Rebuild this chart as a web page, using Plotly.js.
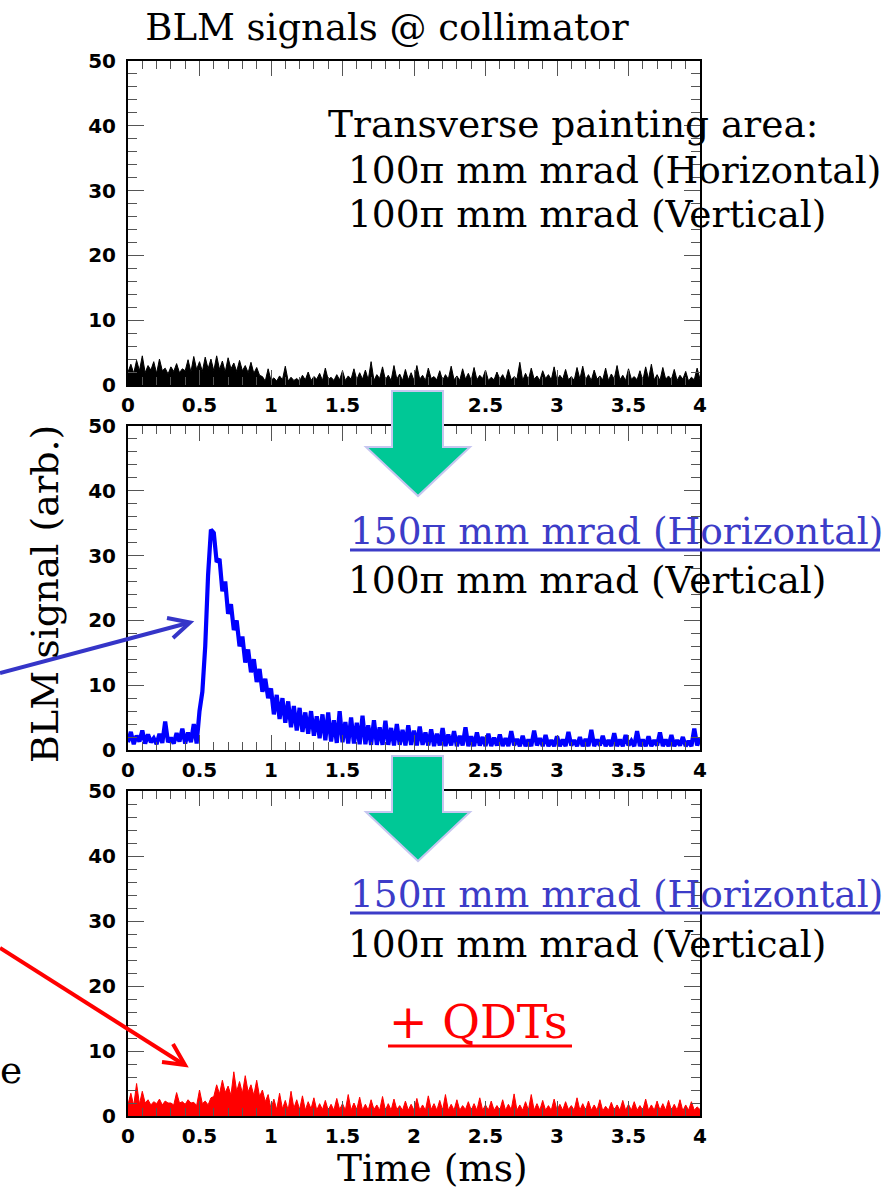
<!DOCTYPE html>
<html>
<head>
<meta charset="utf-8">
<script src="https://cdn.plot.ly/plotly-3.0.1.min.js"></script>
<style>
html,body{margin:0;padding:0;background:#fff;}
#chart{width:889px;height:1192px;}
</style>
</head>
<body>
<div id="chart"></div>
<script>
// ---------------- DATA ----------------
// Sampling grid of the BLM traces (ms)
const SAMPLE_START = 0;
const SAMPLE_STEP = 0.02;

// Panel 1: 100pi (H) x 100pi (V) painting -- black trace
const blm_100H_100V = [
  2.0, 3.2, 1.8, 3.8, 2.2, 4.5, 1.9, 3.0, 2.3, 3.6,
  1.8, 4.0, 2.2, 2.6, 1.7, 2.8, 2.1, 3.3, 1.9, 2.5,
  2.2, 3.9, 2.0, 4.4, 2.4, 3.6, 2.1, 4.3, 2.5, 4.0,
  2.2, 4.5, 2.4, 3.7, 2.0, 4.2, 2.5, 3.4, 2.1, 3.8,
  2.2, 3.0, 1.9, 3.5, 1.8, 2.7, 1.5, 1.3, 0.6, 2.5,
  0.7, 1.1, 0.6, 1.4, 0.8, 2.9, 0.6, 1.2, 0.7, 1.0,
  0.6, 1.5, 0.8, 2.0, 0.7, 1.3, 0.9, 1.8, 0.7, 2.6,
  0.8, 1.2, 0.7, 1.6, 0.8, 2.2, 0.7, 1.4, 0.9, 2.5,
  0.8, 1.9, 0.9, 2.3, 0.8, 3.6, 0.7, 1.6, 1.0, 2.8,
  0.8, 1.5, 0.7, 3.0, 0.9, 1.7, 0.7, 2.4, 0.8, 1.9,
  0.7, 3.0, 0.9, 1.5, 0.7, 2.6, 1.0, 1.3, 0.8, 2.2,
  0.7, 1.6, 0.9, 2.9, 0.8, 1.4, 0.7, 2.5, 0.9, 1.8,
  0.7, 2.7, 0.8, 1.5, 1.0, 2.3, 0.7, 1.2, 0.8, 2.0,
  0.9, 1.6, 0.7, 2.4, 0.8, 1.3, 0.9, 3.5, 0.7, 1.8,
  0.8, 2.6, 0.9, 1.4, 0.7, 2.2, 1.0, 1.6, 0.8, 2.8,
  0.7, 1.5, 0.9, 2.4, 0.8, 1.3, 0.7, 2.7, 0.9, 2.9,
  0.8, 1.6, 0.7, 2.3, 0.9, 1.4, 0.8, 2.6, 0.7, 1.7,
  0.9, 3.0, 0.8, 1.5, 0.7, 2.5, 0.9, 1.3, 0.8, 2.2,
  0.7, 2.8, 0.9, 3.2, 0.8, 1.6, 0.7, 2.7, 0.9, 1.4,
  0.8, 2.4, 0.7, 1.5, 0.9, 2.1, 0.6, 1.2, 0.8, 2.6,
  0.9
];

// Panel 2: 150pi (H) x 100pi (V) painting -- blue trace
const blm_150H_100V = [
  1.2, 2.8, 0.9, 2.2, 1.3, 3.0, 1.0, 2.4, 1.2, 1.8,
  0.9, 2.5, 1.1, 4.4, 1.2, 1.9, 1.0, 2.6, 1.3, 3.3,
  1.0, 2.7, 1.2, 4.0, 1.0, 6.0, 9.0, 16.0, 27.0, 34.0,
  33.5, 29.0, 29.5, 24.5, 26.0, 21.0, 22.5, 18.5, 20.0, 16.0,
  17.5, 13.5, 15.5, 12.0, 14.0, 10.5, 12.5, 9.0, 11.0, 8.0,
  9.5, 5.5, 8.5, 4.8, 8.0, 4.2, 7.5, 3.5, 6.8, 3.0,
  6.5, 2.8, 5.8, 2.5, 6.0, 2.2, 5.2, 1.8, 5.5, 1.5,
  5.8, 1.3, 4.6, 1.1, 6.0, 1.2, 4.3, 1.0, 5.0, 1.0,
  4.2, 0.9, 5.3, 0.9, 3.8, 0.8, 4.6, 0.8, 3.5, 0.8,
  4.5, 0.8, 3.4, 0.7, 4.0, 0.8, 3.1, 0.7, 3.8, 0.8,
  3.0, 0.7, 3.6, 0.8, 2.7, 0.7, 3.2, 0.6, 2.5, 0.7,
  3.4, 0.6, 2.4, 0.7, 2.9, 0.6, 2.2, 0.7, 3.5, 0.6,
  2.1, 0.6, 2.7, 0.7, 2.0, 0.6, 2.5, 0.6, 1.9, 0.7,
  2.4, 0.6, 1.8, 0.6, 2.9, 0.7, 1.7, 0.6, 2.2, 0.6,
  1.6, 0.6, 3.0, 0.7, 1.8, 0.6, 2.3, 0.6, 1.5, 0.6,
  2.1, 0.6, 1.6, 0.6, 2.8, 0.7, 1.5, 0.6, 2.0, 0.6,
  1.7, 0.6, 3.1, 0.6, 1.6, 0.7, 2.2, 0.6, 1.5, 0.6,
  2.6, 0.6, 1.6, 0.6, 2.3, 0.7, 1.4, 0.6, 2.9, 0.6,
  1.6, 0.6, 2.1, 0.6, 1.5, 0.7, 2.7, 0.6, 1.6, 0.6,
  2.3, 0.6, 1.5, 0.7, 2.0, 0.6, 1.4, 0.6, 3.3, 0.7,
  1.8
];

// Panel 3: 150pi (H) x 100pi (V) painting + QDTs -- red trace
const blm_150H_100V_QDT = [
  1.8, 3.5, 1.6, 5.0, 1.8, 3.8, 2.0, 2.5, 1.7, 2.2,
  1.9, 2.6, 1.7, 2.3, 2.0, 2.0, 1.7, 3.6, 2.0, 2.2,
  1.8, 2.5, 2.0, 2.1, 1.6, 4.0, 1.9, 2.3, 1.7, 2.8,
  3.0, 4.8, 3.4, 5.5, 3.6, 4.6, 3.2, 6.8, 3.8, 5.3,
  3.5, 6.2, 3.7, 4.8, 3.2, 5.5, 3.0, 4.0, 2.2, 3.3,
  1.1, 2.6, 1.0, 3.5, 1.1, 2.4, 0.9, 3.8, 1.2, 2.5,
  1.0, 3.1, 0.9, 2.2, 1.1, 2.8, 0.9, 1.9, 1.0, 2.4,
  0.9, 1.8, 0.9, 2.7, 1.0, 1.9, 0.9, 3.3, 0.9, 2.0,
  1.0, 2.9, 0.9, 1.8, 0.9, 2.5, 1.0, 1.7, 0.9, 3.0,
  0.9, 1.9, 0.9, 2.6, 1.0, 1.6, 0.9, 2.3, 0.9, 1.8,
  0.9, 2.7, 0.9, 1.7, 0.9, 3.1, 1.0, 1.9, 0.9, 2.4,
  0.9, 3.3, 0.9, 1.8, 0.9, 2.5, 0.9, 1.6, 1.0, 2.2,
  0.9, 1.9, 0.9, 2.8, 0.9, 1.7, 0.9, 2.3, 0.9, 1.6,
  0.9, 2.5, 0.9, 1.8, 1.0, 3.4, 0.9, 1.7, 0.9, 2.2,
  0.9, 3.3, 0.9, 1.9, 0.9, 2.4, 0.9, 1.6, 0.9, 2.6,
  0.9, 1.8, 0.9, 2.2, 1.0, 1.6, 0.9, 2.8, 0.9, 1.9,
  0.9, 2.3, 0.9, 1.7, 0.9, 2.5, 0.8, 1.5, 0.9, 2.1,
  0.9, 1.7, 0.9, 2.4, 0.9, 1.8, 0.9, 2.2, 0.9, 1.6,
  0.9, 2.6, 0.9, 1.7, 0.9, 2.3, 0.9, 1.9, 0.9, 2.4,
  0.9, 1.8, 0.9, 2.5, 0.8, 1.7, 0.9, 2.2, 0.9, 1.4,
  1.0
];

// Axis ticks
const xTickVals = [0, 0.5, 1, 1.5, 2, 2.5, 3, 3.5, 4];
const xTickText = ["0", "0.5", "1", "1.5", "2", "2.5", "3", "3.5", "4"];
const yTickVals = [0, 10, 20, 30, 40, 50];
const yTickText = ["0", "10", "20", "30", "40", "50"];
const xRange = [0, 4];
const yRange = [0, 50];

// Texts
const titleText = "BLM signals @ collimator";
const yTitleText = "BLM signal (arb.)";
const xTitleText = "Time (ms)";
const panel1Lines = ["Transverse painting area:", "100π mm mrad (Horizontal)", "100π mm mrad (Vertical)"];
const panel2Lines = ["150π mm mrad (Horizontal)", "100π mm mrad (Vertical)"];
const panel3Lines = ["150π mm mrad (Horizontal)", "100π mm mrad (Vertical)", "+ QDTs"];
const cutWordText = "e";

// ---------------- LAYOUT HELPERS (pixel -> paper) ----------------
const W = 889, H = 1192;
const px = x => x / W;
const py = y => 1 - y / H;
const pathOf = (pts, close) =>
  pts.map((p, i) => (i ? 'L' : 'M') + px(p[0]).toFixed(5) + ',' + py(p[1]).toFixed(5)).join(' ') + (close ? ' Z' : '');

const SERIF = 'DejaVu Serif';
const TXT = 37.5;
const BLUE_TXT = '#3c3cc8';
const xDomain = [px(128), px(700)];
const yDomains = [
  [py(385), py(61)],
  [py(750), py(426)],
  [py(1116), py(791)]
];

const axisCommon = {
  showline: true, linecolor: '#000', linewidth: 2, mirror: 'allticks',
  ticks: 'inside', tickcolor: '#555', tickwidth: 1,
  showgrid: false, zeroline: false, fixedrange: true,
  tickfont: {family: 'DejaVu Sans', size: 20, color: '#000', weight: 'bold'}
};

function xAxis(anchor) {
  return Object.assign({}, axisCommon, {
    domain: xDomain, range: xRange, anchor: anchor,
    tickmode: 'array', tickvals: xTickVals, ticktext: xTickText, ticklen: 15,
    ticklabelstandoff: 1,
    minor: {dtick: 0.1, tick0: 0, ticklen: 8, ticks: 'inside', tickcolor: '#555', tickwidth: 1}
  });
}
function yAxis(anchor, domain) {
  return Object.assign({}, axisCommon, {
    domain: domain, range: yRange, anchor: anchor,
    tickmode: 'array', tickvals: yTickVals, ticktext: yTickText, ticklen: 16,
    ticklabelstandoff: 6,
    minor: {dtick: 2, tick0: 0, ticklen: 9, ticks: 'inside', tickcolor: '#555', tickwidth: 1}
  });
}

// ---------------- TRACES ----------------
const traces = [
  {
    type: 'scatter', mode: 'lines', x0: SAMPLE_START, dx: SAMPLE_STEP, y: blm_100H_100V,
    xaxis: 'x', yaxis: 'y', line: {color: '#000', width: 1}, fill: 'tozeroy', fillcolor: '#000',
    hoverinfo: 'skip', showlegend: false
  },
  {
    type: 'scatter', mode: 'lines', x0: SAMPLE_START, dx: SAMPLE_STEP, y: blm_150H_100V,
    xaxis: 'x2', yaxis: 'y2', line: {color: '#0000ff', width: 4.2},
    hoverinfo: 'skip', showlegend: false
  },
  {
    type: 'scatter', mode: 'lines', x0: SAMPLE_START, dx: SAMPLE_STEP, y: blm_150H_100V_QDT,
    xaxis: 'x3', yaxis: 'y3', line: {color: '#ff0000', width: 1}, fill: 'tozeroy', fillcolor: '#ff0000',
    hoverinfo: 'skip', showlegend: false
  }
];

// ---------------- ANNOTATIONS ----------------
function txt(text, x, y, opts) {
  return Object.assign({
    text: text, xref: 'paper', yref: 'paper', x: px(x), y: py(y),
    xanchor: 'left', yanchor: 'middle', showarrow: false,
    font: {family: SERIF, size: TXT, color: '#000'}
  }, opts || {});
}
const annotations = [
  txt(panel1Lines[0], 326, 124),
  txt(panel1Lines[1], 346, 170),
  txt(panel1Lines[2], 346, 214),
  txt(panel2Lines[0], 348, 531, {font: {family: SERIF, size: TXT, color: BLUE_TXT}}),
  txt(panel2Lines[1], 346, 580),
  txt(panel3Lines[0], 348, 894, {font: {family: SERIF, size: TXT, color: BLUE_TXT}}),
  txt(panel3Lines[1], 346, 944),
  txt(panel3Lines[2], 478, 1022, {xanchor: 'center', font: {family: SERIF, size: 46, color: '#ff0000'}}),
  txt(yTitleText, 45, 594, {xanchor: 'center', textangle: -90, font: {family: SERIF, size: 38, color: '#000'}}),
  txt(xTitleText, 432, 1168, {xanchor: 'center'}),
  txt(cutWordText, -2, 1070)
];

// ---------------- SHAPES (decorations) ----------------
const greenArrow = dy => ({
  type: 'path', xref: 'paper', yref: 'paper', layer: 'above',
  path: pathOf([[392, 391 + dy], [443, 391 + dy], [443, 447 + dy], [470, 447 + dy],
                [418, 496 + dy], [366, 447 + dy], [392, 447 + dy]], true),
  fillcolor: '#00c896', line: {color: '#c6c6f0', width: 2}
});
const lineShape = (pts, color, width) => ({
  type: 'path', xref: 'paper', yref: 'paper', layer: 'above',
  path: pathOf(pts, false), fillcolor: 'rgba(0,0,0,0)',
  line: {color: color, width: width}
});
const shapes = [
  greenArrow(0),
  greenArrow(365),
  // underlines
  lineShape([[350, 550], [880, 550]], BLUE_TXT, 3),
  lineShape([[350, 913], [880, 913]], BLUE_TXT, 3),
  lineShape([[388, 1046], [572, 1046]], '#ff0000', 3),
  // blue pointer arrow
  lineShape([[0, 673], [188, 623]], '#3535c8', 4),
  lineShape([[167, 618], [190, 622.5], [173, 638]], '#3535c8', 4),
  // red pointer arrow
  lineShape([[0, 948], [183, 1064]], '#ff0000', 4),
  lineShape([[173, 1044], [185, 1065], [162, 1062]], '#ff0000', 4)
];

const layout = {
  width: W, height: H,
  margin: {l: 0, r: 0, t: 0, b: 0, pad: 0},
  paper_bgcolor: '#fff', plot_bgcolor: '#fff',
  showlegend: false,
  title: {
    text: titleText, xref: 'paper', yref: 'paper', x: px(387), xanchor: 'center',
    y: py(27), yanchor: 'middle', font: {family: SERIF, size: 37, color: '#000'}
  },
  xaxis: xAxis('y'), yaxis: yAxis('x', yDomains[0]),
  xaxis2: xAxis('y2'), yaxis2: yAxis('x2', yDomains[1]),
  xaxis3: xAxis('y3'), yaxis3: yAxis('x3', yDomains[2]),
  annotations: annotations,
  shapes: shapes
};

Plotly.newPlot('chart', traces, layout, {staticPlot: true, displayModeBar: false});
</script>
</body>
</html>
